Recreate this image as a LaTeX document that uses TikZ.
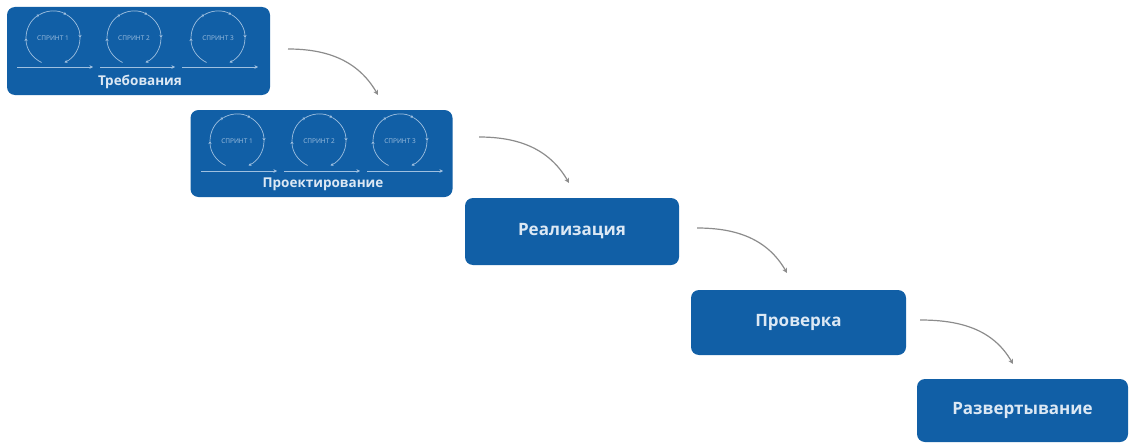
\documentclass[tikz,border=0pt]{standalone}
\usepackage{fontspec}
\setmainfont{Open Sans}
\usetikzlibrary{arrows.meta}
\definecolor{boxblue}{HTML}{115FA6}
\definecolor{txtlight}{HTML}{DCE8F4}
\definecolor{sprintline}{HTML}{9FC0E0}
\definecolor{arrgray}{HTML}{8C8C8C}
\tikzset{
  stage/.style={fill=boxblue, rounded corners=8pt, inner sep=0pt, text=txtlight, font=\bfseries\fontsize{17}{19}\selectfont},
  flow/.style={draw=arrgray, line width=1.2pt, -{Stealth[length=5pt,width=5pt]}},
  cyc/.style={draw=sprintline, line width=0.7pt, -{Stealth[length=3pt,width=3pt]}},
  base/.style={draw=sprintline, line width=0.9pt, -{Stealth[length=3.5pt,width=3.5pt]}},
  sprtxt/.style={text=sprintline, font=\fontsize{6.5}{7}\selectfont, inner sep=0pt},
  sublabel/.style={text=txtlight, font=\bfseries\fontsize{13.5}{15}\selectfont, inner sep=0pt}
}
\newcommand{\sprintcycle}[4]{% x, y, radius, label
  \foreach \a/\b in {115/180, 180/240, 240/300, 300/360, 360/425} {
    \draw[cyc] (#1,#2) ++(\a:#3) arc[start angle=\a, end angle=\b, radius=#3];
  }
  \node[sprtxt] at (#1,#2) {#4};
}
\begin{document}
\begin{tikzpicture}[x=1pt,y=-1pt]
\useasboundingbox (0,0) rectangle (1129,444);
% stage boxes
\node[stage, minimum width=263pt, minimum height=88pt] (b1) at (138.5,51) {};
\node[stage, minimum width=262pt, minimum height=87pt] (b2) at (321.5,153.5) {};
\node[stage, minimum width=214pt, minimum height=67pt] (b3) at (572,231.5) {Реализация};
\node[stage, minimum width=215pt, minimum height=65pt] (b4) at (798.5,322.5) {Проверка};
\node[stage, minimum width=211pt, minimum height=63pt] (b5) at (1022.5,410.5) {Развертывание};
% box 1 content
\sprintcycle{53}{38}{27}{СПРИНТ 1}
\sprintcycle{134}{38}{27}{СПРИНТ 2}
\sprintcycle{218}{38}{27}{СПРИНТ 3}
\draw[base] (17,67) -- (93,67);
\draw[base] (100,67) -- (175,67);
\draw[base] (182,67) -- (258,67);
\node[sublabel] (l1) at (140,82) {Требования};
% box 2 content
\sprintcycle{237}{141}{27}{СПРИНТ 1}
\sprintcycle{319}{141}{27}{СПРИНТ 2}
\sprintcycle{400}{141}{27}{СПРИНТ 3}
\draw[base] (201,171) -- (277,171);
\draw[base] (284,171) -- (360,171);
\draw[base] (367,171) -- (443,171);
\node[sublabel] (l2) at (323,184) {Проектирование};
% connectors
\coordinate (s1) at (288,49);  \coordinate (e1) at (378,95);
\coordinate (s2) at (479,137); \coordinate (e2) at (569,183);
\coordinate (s3) at (697,228); \coordinate (e3) at (787,273);
\coordinate (s4) at (920,320); \coordinate (e4) at (1013,364);
\draw[flow] (s1) to[out=0,in=120] (e1);
\draw[flow] (s2) to[out=0,in=120] (e2);
\draw[flow] (s3) to[out=0,in=120] (e3);
\draw[flow] (s4) to[out=0,in=120] (e4);
\end{tikzpicture}
\end{document}
